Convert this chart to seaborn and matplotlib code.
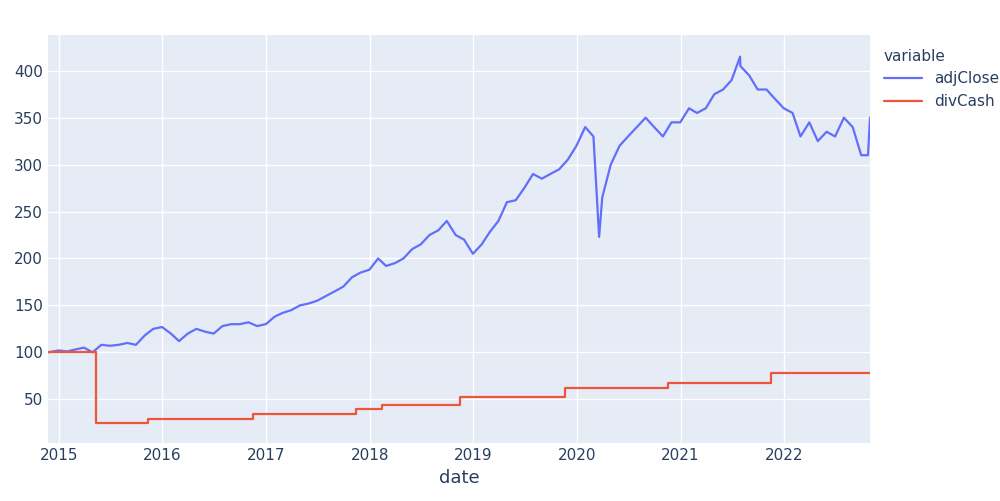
import pandas as pd
import numpy as np
import matplotlib.pyplot as plt
import matplotlib.dates as mdates
import seaborn as sns

# adjClose, roughly month-end readings plus a few extremes
close_dates = (["2014-11-24"] + [str(d.date()) for d in pd.date_range("2014-12-31", "2022-10-31", freq="ME")]
               + ["2020-03-20", "2021-07-30", "2022-10-24", "2022-10-31"])
close_vals = ([100, 102,
               101, 103, 105, 100, 108, 107, 108, 110, 108, 118, 125, 127,
               120, 112, 120, 125, 122, 120, 128, 130, 130, 132, 128, 130,
               138, 142, 145, 150, 152, 155, 160, 165, 170, 180, 185, 188,
               200, 192, 195, 200, 210, 215, 225, 230, 240, 225, 220, 205,
               215, 228, 240, 260, 262, 275, 290, 285, 290, 295, 305, 320,
               340, 330, 265, 300, 320, 330, 340, 350, 340, 330, 345, 345,
               360, 355, 360, 375, 380, 390, 405, 395, 380, 380, 370, 360,
               355, 330, 345, 325, 335, 330, 350, 340, 310, 300]
              + [223, 415, 310, 350])

div_dates = ["2014-11-24", "2015-05-12", "2015-11-12", "2016-11-14", "2017-11-14", "2018-02-13",
             "2018-11-14", "2019-11-19", "2020-11-17", "2021-11-17", "2022-10-31"]
div_vals = [100, 24.5, 28.5, 34.5, 40, 43.5, 52, 62.5, 67.5, 78.5, 78.5]

close = pd.DataFrame({"date": pd.to_datetime(close_dates), "value": close_vals}).sort_values("date")
close = close[~close["date"].duplicated(keep="last")]
div = pd.DataFrame({"date": pd.to_datetime(div_dates), "value": div_vals})

sns.set_theme(style="darkgrid", rc={"axes.facecolor": "#E5ECF6", "grid.color": "white",
                                     "axes.edgecolor": "#E5ECF6", "text.color": "#2a3f5f",
                                     "xtick.color": "#2a3f5f", "ytick.color": "#2a3f5f",
                                     "axes.labelcolor": "#2a3f5f"})
fig, ax = plt.subplots(figsize=(10, 5.01), dpi=100)
fig.subplots_adjust(left=0.048, right=0.87, top=0.93, bottom=0.115)

sns.lineplot(data=close, x="date", y="value", color="#636EFA", lw=1.6, ax=ax, label="adjClose")
sns.lineplot(data=div, x="date", y="value", color="#EF553B", lw=1.6, ax=ax, label="divCash",
             drawstyle="steps-post")

ax.set_xlim(pd.Timestamp("2014-11-24"), pd.Timestamp("2022-10-31"))
ax.set_ylim(3, 438)
ax.set_yticks([50, 100, 150, 200, 250, 300, 350, 400])
ax.xaxis.set_major_locator(mdates.YearLocator())
ax.xaxis.set_major_formatter(mdates.DateFormatter("%Y"))
ax.tick_params(labelsize=11, length=0)
ax.set_xlabel("date", fontsize=13)
ax.set_ylabel("")
for s in ax.spines.values():
    s.set_visible(False)

leg = ax.legend(title="variable", loc="upper left", bbox_to_anchor=(1.0, 1.0), frameon=False,
                fontsize=11, title_fontsize=11, handlelength=2.5)
leg._legend_box.align = "left"

plt.savefig("out.png")
